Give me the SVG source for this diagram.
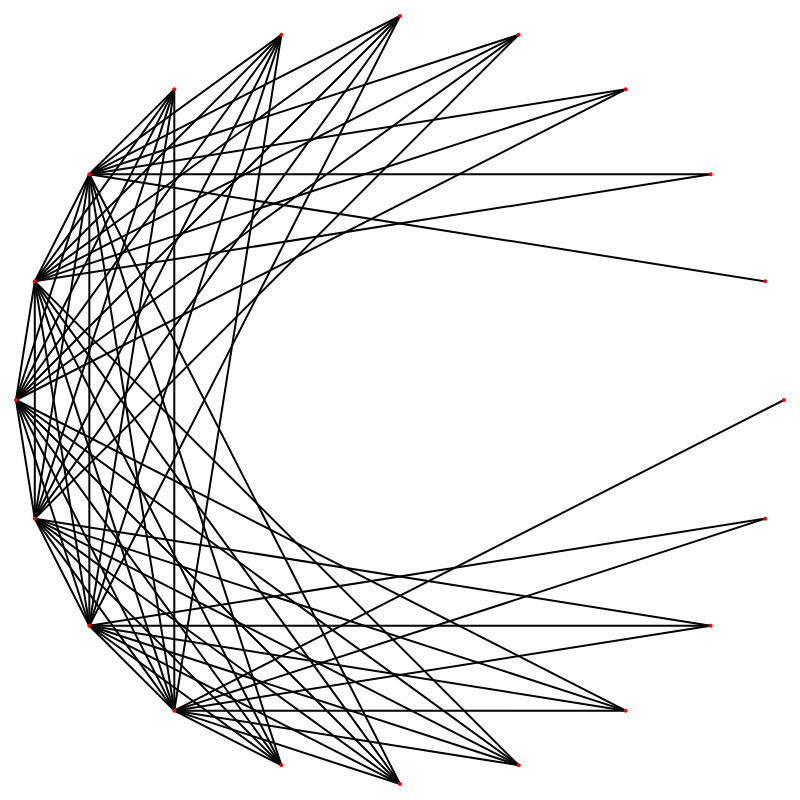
<svg xmlns="http://www.w3.org/2000/svg" width="800" height="800" viewBox="0 0 800 800">
<style>
.e{stroke:#000;stroke-width:2;fill:none;stroke-linecap:round}
.n{fill:#ff0000;stroke:none}
</style>
<rect width="800" height="800" fill="#fff"/>
<g id="edges">
<line class="e" x1="89.337" y1="174.291" x2="765.206" y2="281.338"/>
<line class="e" x1="89.337" y1="174.291" x2="710.663" y2="174.291"/>
<line class="e" x1="89.337" y1="174.291" x2="625.709" y2="89.337"/>
<line class="e" x1="89.337" y1="174.291" x2="518.662" y2="34.794"/>
<line class="e" x1="89.337" y1="174.291" x2="400" y2="16"/>
<line class="e" x1="89.337" y1="174.291" x2="281.338" y2="34.794"/>
<line class="e" x1="89.337" y1="174.291" x2="174.291" y2="89.337"/>
<line class="e" x1="89.337" y1="174.291" x2="34.794" y2="281.338"/>
<line class="e" x1="89.337" y1="174.291" x2="16" y2="400"/>
<line class="e" x1="89.337" y1="174.291" x2="34.794" y2="518.662"/>
<line class="e" x1="89.337" y1="174.291" x2="89.337" y2="625.709"/>
<line class="e" x1="89.337" y1="174.291" x2="174.291" y2="710.663"/>
<line class="e" x1="89.337" y1="174.291" x2="281.338" y2="765.206"/>
<line class="e" x1="89.337" y1="174.291" x2="400" y2="784"/>
<line class="e" x1="34.794" y1="281.338" x2="710.663" y2="174.291"/>
<line class="e" x1="34.794" y1="281.338" x2="625.709" y2="89.337"/>
<line class="e" x1="34.794" y1="281.338" x2="518.662" y2="34.794"/>
<line class="e" x1="34.794" y1="281.338" x2="400" y2="16"/>
<line class="e" x1="34.794" y1="281.338" x2="281.338" y2="34.794"/>
<line class="e" x1="34.794" y1="281.338" x2="174.291" y2="89.337"/>
<line class="e" x1="34.794" y1="281.338" x2="16" y2="400"/>
<line class="e" x1="34.794" y1="281.338" x2="34.794" y2="518.662"/>
<line class="e" x1="34.794" y1="281.338" x2="89.337" y2="625.709"/>
<line class="e" x1="34.794" y1="281.338" x2="174.291" y2="710.663"/>
<line class="e" x1="34.794" y1="281.338" x2="281.338" y2="765.206"/>
<line class="e" x1="34.794" y1="281.338" x2="400" y2="784"/>
<line class="e" x1="34.794" y1="281.338" x2="518.662" y2="765.206"/>
<line class="e" x1="16" y1="400" x2="625.709" y2="89.337"/>
<line class="e" x1="16" y1="400" x2="518.662" y2="34.794"/>
<line class="e" x1="16" y1="400" x2="400" y2="16"/>
<line class="e" x1="16" y1="400" x2="281.338" y2="34.794"/>
<line class="e" x1="16" y1="400" x2="174.291" y2="89.337"/>
<line class="e" x1="16" y1="400" x2="34.794" y2="518.662"/>
<line class="e" x1="16" y1="400" x2="89.337" y2="625.709"/>
<line class="e" x1="16" y1="400" x2="174.291" y2="710.663"/>
<line class="e" x1="16" y1="400" x2="281.338" y2="765.206"/>
<line class="e" x1="16" y1="400" x2="400" y2="784"/>
<line class="e" x1="16" y1="400" x2="518.662" y2="765.206"/>
<line class="e" x1="16" y1="400" x2="625.709" y2="710.663"/>
<line class="e" x1="34.794" y1="518.662" x2="518.662" y2="34.794"/>
<line class="e" x1="34.794" y1="518.662" x2="400" y2="16"/>
<line class="e" x1="34.794" y1="518.662" x2="281.338" y2="34.794"/>
<line class="e" x1="34.794" y1="518.662" x2="174.291" y2="89.337"/>
<line class="e" x1="34.794" y1="518.662" x2="89.337" y2="625.709"/>
<line class="e" x1="34.794" y1="518.662" x2="174.291" y2="710.663"/>
<line class="e" x1="34.794" y1="518.662" x2="281.338" y2="765.206"/>
<line class="e" x1="34.794" y1="518.662" x2="400" y2="784"/>
<line class="e" x1="34.794" y1="518.662" x2="518.662" y2="765.206"/>
<line class="e" x1="34.794" y1="518.662" x2="625.709" y2="710.663"/>
<line class="e" x1="34.794" y1="518.662" x2="710.663" y2="625.709"/>
<line class="e" x1="89.337" y1="625.709" x2="400" y2="16"/>
<line class="e" x1="89.337" y1="625.709" x2="281.338" y2="34.794"/>
<line class="e" x1="89.337" y1="625.709" x2="174.291" y2="89.337"/>
<line class="e" x1="89.337" y1="625.709" x2="174.291" y2="710.663"/>
<line class="e" x1="89.337" y1="625.709" x2="281.338" y2="765.206"/>
<line class="e" x1="89.337" y1="625.709" x2="400" y2="784"/>
<line class="e" x1="89.337" y1="625.709" x2="518.662" y2="765.206"/>
<line class="e" x1="89.337" y1="625.709" x2="625.709" y2="710.663"/>
<line class="e" x1="89.337" y1="625.709" x2="710.663" y2="625.709"/>
<line class="e" x1="89.337" y1="625.709" x2="765.206" y2="518.662"/>
<line class="e" x1="174.291" y1="710.663" x2="281.338" y2="34.794"/>
<line class="e" x1="174.291" y1="710.663" x2="174.291" y2="89.337"/>
<line class="e" x1="174.291" y1="710.663" x2="281.338" y2="765.206"/>
<line class="e" x1="174.291" y1="710.663" x2="400" y2="784"/>
<line class="e" x1="174.291" y1="710.663" x2="518.662" y2="765.206"/>
<line class="e" x1="174.291" y1="710.663" x2="625.709" y2="710.663"/>
<line class="e" x1="174.291" y1="710.663" x2="710.663" y2="625.709"/>
<line class="e" x1="174.291" y1="710.663" x2="765.206" y2="518.662"/>
<line class="e" x1="174.291" y1="710.663" x2="784" y2="400"/>
</g>
<g id="n0"><circle class="n" cx="784" cy="400" r="2"/></g>
<g id="n1"><circle class="n" cx="765.206" cy="281.338" r="2"/></g>
<g id="n2"><circle class="n" cx="710.663" cy="174.291" r="2"/></g>
<g id="n3"><circle class="n" cx="625.709" cy="89.337" r="2"/></g>
<g id="n4"><circle class="n" cx="518.662" cy="34.794" r="2"/></g>
<g id="n5"><circle class="n" cx="400" cy="16" r="2"/></g>
<g id="n6"><circle class="n" cx="281.338" cy="34.794" r="2"/></g>
<g id="n7"><circle class="n" cx="174.291" cy="89.337" r="2"/></g>
<g id="n8"><circle class="n" cx="89.337" cy="174.291" r="2"/></g>
<g id="n9"><circle class="n" cx="34.794" cy="281.338" r="2"/></g>
<g id="n10"><circle class="n" cx="16" cy="400" r="2"/></g>
<g id="n11"><circle class="n" cx="34.794" cy="518.662" r="2"/></g>
<g id="n12"><circle class="n" cx="89.337" cy="625.709" r="2"/></g>
<g id="n13"><circle class="n" cx="174.291" cy="710.663" r="2"/></g>
<g id="n14"><circle class="n" cx="281.338" cy="765.206" r="2"/></g>
<g id="n15"><circle class="n" cx="400" cy="784" r="2"/></g>
<g id="n16"><circle class="n" cx="518.662" cy="765.206" r="2"/></g>
<g id="n17"><circle class="n" cx="625.709" cy="710.663" r="2"/></g>
<g id="n18"><circle class="n" cx="710.663" cy="625.709" r="2"/></g>
<g id="n19"><circle class="n" cx="765.206" cy="518.662" r="2"/></g>
</svg>
